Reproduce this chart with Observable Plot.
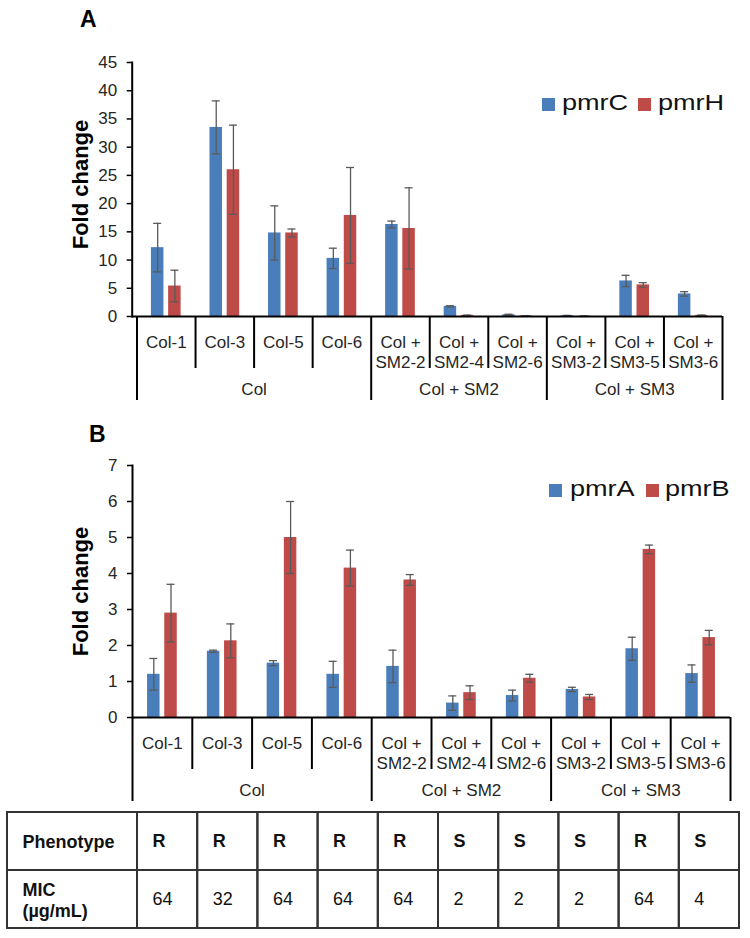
<!DOCTYPE html>
<html>
<head>
<meta charset="utf-8">
<script src="https://cdn.jsdelivr.net/npm/d3@7"></script>
<script src="https://cdn.jsdelivr.net/npm/@observablehq/plot@0.6"></script>
<style>
  body { margin: 0; background: #fff; font-family: "Liberation Sans", Arial, sans-serif; }
  #root { position: relative; width: 750px; height: 938px; overflow: hidden; background: #fff; }
  .abs { position: absolute; }
  .letter { font-weight: bold; font-size: 23px; line-height: 23px; color: #000; }
  .sw { position: absolute; width: 13px; height: 13px; }
  .lg { position: absolute; font-size: 22px; line-height: 22px; color: #111; transform: scaleX(1.23); transform-origin: left center; white-space: nowrap; }
</style>
</head>
<body>
<div id="root"></div>
<script>
// ---------- data ----------
const samples = ["Col-1", "Col-3", "Col-5", "Col-6", "Col + SM2-2", "Col + SM2-4", "Col + SM2-6", "Col + SM3-2", "Col + SM3-5", "Col + SM3-6"];
const sampleLabels = ["Col-1", "Col-3", "Col-5", "Col-6", "Col +\nSM2-2", "Col +\nSM2-4", "Col +\nSM2-6", "Col +\nSM3-2", "Col +\nSM3-5", "Col +\nSM3-6"];
const groupNames = ["Col", "Col + SM2", "Col + SM3"];
const groupSizes = [4, 3, 3];

// Panel A
const genesA = ["pmrC", "pmrH"];
const pmrC = [12.2, 33.5, 14.8, 10.3, 16.3, 1.8, 0.3, 0.15, 6.3, 4.0];
const pmrC_err = [4.3, 4.7, 4.8, 1.8, 0.6, 0.1, 0.1, 0.05, 1.0, 0.4];
const pmrH = [5.4, 26.0, 14.8, 17.9, 15.6, 0.2, 0.1, 0.05, 5.6, 0.2];
const pmrH_err = [2.8, 7.9, 0.7, 8.5, 7.2, 0.05, 0.05, 0.03, 0.4, 0.05];
const ticksA = [0, 5, 10, 15, 20, 25, 30, 35, 40, 45];

// Panel B
const genesB = ["pmrA", "pmrB"];
const pmrA = [1.2, 1.84, 1.51, 1.2, 1.42, 0.40, 0.61, 0.78, 1.91, 1.22];
const pmrA_err = [0.44, 0.03, 0.07, 0.36, 0.45, 0.2, 0.15, 0.06, 0.32, 0.24];
const pmrB = [2.9, 2.13, 5.0, 4.15, 3.82, 0.69, 1.09, 0.57, 4.67, 2.22];
const pmrB_err = [0.8, 0.47, 1.0, 0.5, 0.15, 0.19, 0.11, 0.07, 0.12, 0.2];
const ticksB = [0, 1, 2, 3, 4, 5, 6, 7];

// Table
const tableRows = ["Phenotype", "MIC\n(µg/mL)"];
const phenotype = ["R", "R", "R", "R", "R", "S", "S", "S", "R", "S"];
const mic = [64, 32, 64, 64, 64, 2, 2, 2, 64, 4];

// ---------- style ----------
const FONT = '"Liberation Sans", Arial, sans-serif';
const BLUE = "#4a7ebb", RED = "#be4b48", ERR = "#5a5a5a", INK = "#262626";

function panel(o) {
  const W = 750;
  const bw = (W - o.ml - o.mr) / samples.length;
  const half = 8.6, barW = 12.5, capW = 8;
  const rows = samples.map((s, i) => ({sample: s, label: sampleLabels[i], a: o.a[i], ea: o.ea[i], b: o.b[i], eb: o.eb[i]}));
  const inL = c => bw / 2 + c - barW / 2, inR = c => bw / 2 - c - barW / 2;
  const cL = c => bw / 2 + c - capW / 2, cR = c => bw / 2 - c - capW / 2;
  const starts = []; let k = 0; groupSizes.forEach(n => { starts.push(k); k += n; });
  const groups = groupNames.map((g, i) => ({name: g, first: samples[starts[i]], size: groupSizes[i]}));
  const outerL = starts.map(i => samples[i]);
  const innerL = samples.filter((s, i) => !starts.includes(i));
  const errMarks = (key, ekey, c) => [
    Plot.ruleX(rows, {x: "sample", y1: d => d[key] - d[ekey], y2: d => d[key] + d[ekey], dx: c, stroke: ERR, strokeWidth: 1.3}),
    Plot.tickY(rows, {x: "sample", y: d => d[key] + d[ekey], insetLeft: cL(c), insetRight: cR(c), stroke: ERR, strokeWidth: 1.3}),
    Plot.tickY(rows, {x: "sample", y: d => d[key] - d[ekey], insetLeft: cL(c), insetRight: cR(c), stroke: ERR, strokeWidth: 1.3})
  ];
  return Plot.plot({
    width: W, height: o.height,
    marginTop: o.mt, marginBottom: o.mb, marginLeft: o.ml, marginRight: o.mr,
    style: {fontFamily: FONT, fontSize: "17px", color: INK, background: "transparent", overflow: "visible"},
    x: {domain: samples, padding: 0, round: false, axis: null},
    y: {domain: [0, o.ymax], nice: false, label: null, axis: null},
    marks: [
      Plot.barY(rows, {x: "sample", y: "a", fill: BLUE, insetLeft: inL(-half), insetRight: inR(-half)}),
      Plot.barY(rows, {x: "sample", y: "b", fill: RED, insetLeft: inL(half), insetRight: inR(half)}),
      ...errMarks("a", "ea", -half),
      ...errMarks("b", "eb", half),
      Plot.ruleY([0], {stroke: "#000", strokeWidth: 2, insetLeft: -o.yoff}),
      Plot.frame({anchor: "left", stroke: "#000", strokeWidth: 2, dx: -o.yoff}),
      Plot.axisY(o.ticks, {tickSize: 5, tickPadding: 10, dx: -o.yoff, fontSize: 17, stroke: "#000", strokeWidth: 1.5, label: null}),
      Plot.text(["Fold change"], {frameAnchor: "left", rotate: -90, textAnchor: "middle", lineAnchor: "middle", dx: o.titleDx, dy: o.titleDy, fontSize: 22, fontWeight: "bold", fill: "#000"}),
      // category separators
      Plot.ruleX(innerL, {x: d => d, y1: 0, y2: 0, dx: -bw / 2, insetBottom: -52, stroke: "#000", strokeWidth: 2}),
      Plot.ruleX(outerL, {x: d => d, y1: 0, y2: 0, dx: -bw / 2, insetBottom: -84, stroke: "#000", strokeWidth: 2}),
      Plot.ruleX([samples[samples.length - 1]], {x: d => d, y1: 0, y2: 0, dx: bw / 2, insetBottom: -84, stroke: "#000", strokeWidth: 2}),
      // category labels
      Plot.text(rows, {x: "sample", y: 0, text: "label", lineAnchor: "top", dy: 17, lineHeight: 1.18, fontSize: 17, fill: INK}),
      // group labels
      ...groups.map(g => Plot.text([g], {x: d => d.first, y: 0, text: "name", dx: (g.size - 1) * bw / 2, dy: 73, fontSize: 17, fill: INK}))
    ]
  });
}

function table() {
  const W = 750, ml = 137, mr = 11;
  const bw = (W - ml - mr) / samples.length;
  const cells = [];
  samples.forEach((s, i) => {
    cells.push({sample: s, row: tableRows[0], text: phenotype[i], bold: true});
    cells.push({sample: s, row: tableRows[1], text: String(mic[i]), bold: false});
  });
  return Plot.plot({
    width: W, height: 131, marginTop: 5, marginBottom: 10, marginLeft: ml, marginRight: mr,
    style: {fontFamily: FONT, fontSize: "18px", color: "#111", background: "transparent", overflow: "visible"},
    x: {domain: samples, padding: 0, round: false, axis: null},
    y: {domain: tableRows, padding: 0, round: false, axis: null},
    marks: [
      Plot.cell(tableRows, {y: d => d, insetLeft: -(ml - 7), fill: "none", stroke: "#333", strokeWidth: 2}),
      Plot.cell(cells, {x: "sample", y: "row", fill: "none", stroke: "#333", strokeWidth: 2}),
      Plot.text(tableRows, {y: d => d, frameAnchor: "left", dx: -(ml - 22), textAnchor: "start", fontWeight: "bold", fontSize: 18, lineHeight: 1.17, fill: "#111"}),
      Plot.text(cells.filter(c => c.bold), {x: "sample", y: "row", text: "text", textAnchor: "start", dx: -bw / 2 + 15, fontWeight: "bold", fontSize: 18, fill: "#111"}),
      Plot.text(cells.filter(c => !c.bold), {x: "sample", y: "row", text: "text", textAnchor: "start", dx: -bw / 2 + 15, fontSize: 18, fill: "#111"})
    ]
  });
}

const root = document.getElementById("root");
function place(el, top) {
  const wrap = document.createElement("div");
  wrap.className = "abs";
  wrap.style.left = "0px"; wrap.style.top = top + "px";
  wrap.appendChild(el);
  root.appendChild(wrap);
}
function addText(cls, text, left, top) {
  const d = document.createElement("div");
  d.className = cls; d.textContent = text;
  d.style.left = left + "px"; d.style.top = top + "px";
  if (cls === "letter") d.style.position = "absolute";
  root.appendChild(d);
}
function addSwatch(color, left, top) {
  const d = document.createElement("div");
  d.className = "sw"; d.style.background = color;
  d.style.left = left + "px"; d.style.top = top + "px";
  root.appendChild(d);
}

place(panel({a: pmrC, ea: pmrC_err, b: pmrH, eb: pmrH_err, ymax: 45, ticks: ticksA,
  height: 405, mt: 62, mb: 89, ml: 136.5, mr: 28, yoff: 4.8, titleDx: -56.5, titleDy: -5}), 0);
place(panel({a: pmrA, ea: pmrA_err, b: pmrB, eb: pmrB_err, ymax: 7, ticks: ticksB,
  height: 402, mt: 60, mb: 90, ml: 132, mr: 20, yoff: 0, titleDx: -52, titleDy: 0}), 405);
place(table(), 807);

// panel letters
addText("letter", "A", 80, 7.5);
addText("letter", "B", 89, 422.5);
// legends
addSwatch(BLUE, 542, 98); addText("lg", genesA[0], 562, 92.4);
addSwatch(RED, 638, 98); addText("lg", genesA[1], 658, 92.4);
addSwatch(BLUE, 549, 484); addText("lg", genesB[0], 570, 478.4);
addSwatch(RED, 646, 484); addText("lg", genesB[1], 665, 478.4);
</script>
</body>
</html>
